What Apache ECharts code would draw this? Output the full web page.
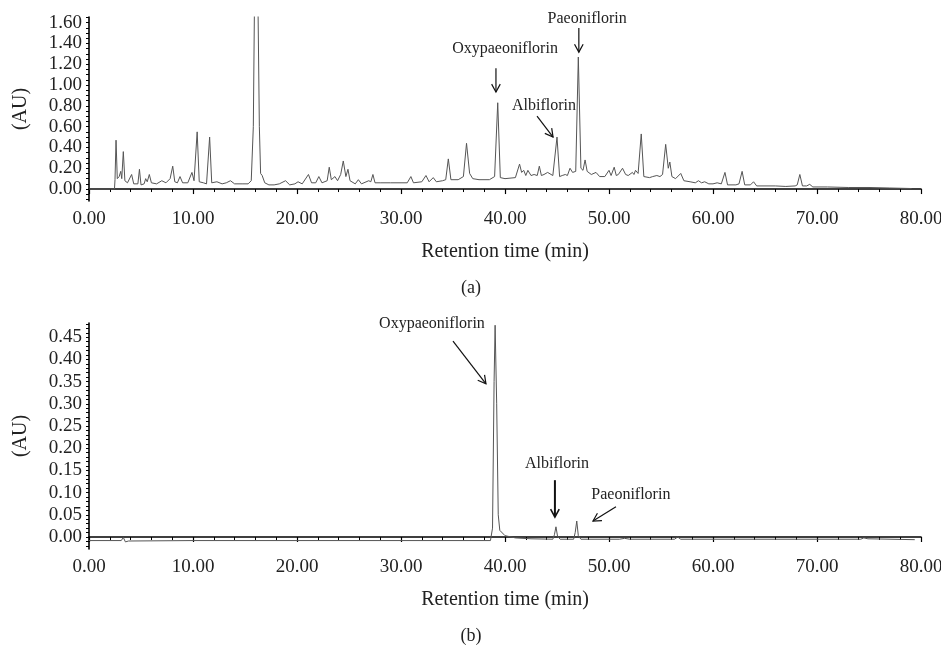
<!DOCTYPE html>
<html>
<head>
<meta charset="utf-8">
<script src="https://cdn.jsdelivr.net/npm/echarts@6/dist/echarts.min.js"></script>
<style>html,body{margin:0;padding:0;background:#fff}#c{width:941px;height:650px}</style>
</head>
<body>
<div id="c"></div>
<script>
// ---- Data (time in min, absorbance in AU) ----
var traceA = [
[0,0],[2.45,0],[2.5,0.09],[2.6,0.47],[2.72,0.1],[2.9,0.12],[3.05,0.17],[3.15,0.1],[3.3,0.36],[3.45,0.08],[3.7,0.06],
[4.1,0.14],[4.3,0.05],[4.7,0.05],[4.85,0.19],[5.0,0.04],[5.3,0.05],[5.45,0.1],[5.6,0.07],[5.8,0.14],[6.0,0.06],[6.5,0.05],
[7.0,0.08],[7.4,0.06],[7.8,0.1],[8.05,0.22],[8.25,0.07],[8.5,0.06],[8.75,0.12],[9.0,0.06],[9.5,0.06],[9.9,0.16],[10.1,0.08],
[10.4,0.55],[10.6,0.07],[11.0,0.06],[11.3,0.05],[11.6,0.5],[11.8,0.06],[12.3,0.07],[12.8,0.05],[13.2,0.06],[13.6,0.08],
[14.0,0.05],[14.8,0.05],[15.3,0.05],[15.6,0.08],[15.8,0.6],[15.95,2.2],[16.2,2.2],[16.38,0.6],[16.5,0.15],[16.65,0.13],
[16.9,0.06],[17.3,0.04],[17.8,0.04],[18.3,0.05],[18.9,0.08],[19.3,0.04],[19.8,0.05],[20.1,0.07],[20.5,0.05],[21.1,0.14],
[21.4,0.06],[21.8,0.06],[22.1,0.12],[22.4,0.06],[22.9,0.08],[23.1,0.21],[23.3,0.09],[23.65,0.12],[23.9,0.08],[24.2,0.14],
[24.45,0.27],[24.7,0.12],[24.9,0.19],[25.1,0.08],[25.6,0.05],[25.9,0.09],[26.2,0.05],[26.9,0.08],[27.1,0.07],[27.3,0.14],
[27.5,0.06],[28,0.06],[29,0.06],[30,0.06],[30.6,0.06],[30.95,0.12],[31.2,0.06],[32,0.07],[32.4,0.13],[32.7,0.07],[33.1,0.11],
[33.4,0.07],[34,0.08],[34.3,0.09],[34.55,0.29],[34.8,0.09],[35.5,0.09],[36.0,0.12],[36.3,0.44],[36.6,0.15],[36.9,0.1],
[37.5,0.09],[38.5,0.09],[39.0,0.12],[39.3,0.83],[39.55,0.11],[40.0,0.1],[41.0,0.11],[41.4,0.24],[41.6,0.16],[41.8,0.18],
[42.0,0.13],[42.2,0.18],[42.5,0.13],[42.8,0.14],[43.1,0.13],[43.3,0.22],[43.5,0.13],[43.75,0.14],[44.1,0.16],[44.6,0.13],
[45.0,0.5],[45.25,0.12],[45.5,0.13],[45.8,0.14],[46.0,0.13],[46.25,0.2],[46.5,0.16],[46.8,0.17],[47.05,1.27],[47.3,0.2],
[47.5,0.18],[47.7,0.28],[47.9,0.17],[48.3,0.14],[48.75,0.16],[49.1,0.12],[49.6,0.12],[50.0,0.18],[50.2,0.13],[50.5,0.21],
[50.7,0.13],[50.9,0.14],[51.3,0.2],[51.6,0.14],[51.85,0.13],[52.25,0.16],[52.4,0.14],[52.55,0.18],[52.8,0.15],[53.1,0.53],
[53.35,0.12],[53.9,0.11],[54.2,0.12],[54.35,0.11],[54.6,0.13],[54.9,0.12],[55.15,0.14],[55.45,0.43],[55.7,0.2],[55.85,0.26],
[56.05,0.12],[56.4,0.1],[56.9,0.15],[57.2,0.08],[57.8,0.07],[58.3,0.06],[58.6,0.08],[58.9,0.06],[59.2,0.07],[59.6,0.05],
[60.0,0.05],[60.4,0.06],[60.8,0.05],[61.15,0.16],[61.4,0.04],[62.2,0.04],[62.5,0.05],[62.8,0.17],[63.05,0.04],[63.6,0.04],
[63.9,0.07],[64.2,0.03],[65,0.03],[66,0.03],[67,0.025],[67.9,0.03],[68.1,0.04],[68.35,0.14],[68.6,0.03],[69.0,0.03],
[69.3,0.045],[69.6,0.02],[71,0.02],[73,0.015],[75,0.015],[77,0.01],[79.1,0.005]
];
var traceB = [
[0,-0.008],[3.1,-0.008],[3.3,-0.001],[3.5,-0.011],[3.8,-0.009],[10,-0.008],[20,-0.008],[30,-0.008],[38.6,-0.008],
[38.8,0.02],[38.95,0.35],[39.05,0.477],[39.2,0.3],[39.35,0.05],[39.5,0.015],[40.0,0.003],[41,-0.002],[42.5,-0.004],
[44.6,-0.005],[44.75,0.005],[44.9,0.023],[45.05,0.002],[45.3,-0.005],[46.6,-0.005],[46.75,0.01],[46.9,0.036],[47.05,0.003],
[47.3,-0.005],[51.0,-0.005],[51.5,-0.003],[52,-0.005],[56.3,-0.005],[56.6,0.0],[56.9,-0.005],[60,-0.005],[70,-0.005],
[74.2,-0.005],[74.5,-0.002],[74.9,-0.004],[79.4,-0.006]
];
var xTickLabels = [0,10,20,30,40,50,60,70,80];
var yTicksA = [0,0.2,0.4,0.6,0.8,1.0,1.2,1.4,1.6];
var yTicksB = [0,0.05,0.10,0.15,0.20,0.25,0.30,0.35,0.40,0.45];
var panelTitles = ['(a)','(b)'];
var xName = 'Retention time (min)';
var yName = '(AU)';
// annotations: [text, textT, textV, arrowFromT, arrowFromV, arrowToT, arrowToV, lineWidth]
var notesA = [
['Oxypaeoniflorin',40.0,1.346,39.13,1.163,39.13,0.933,1.2],
['Paeoniflorin',47.9,1.635,47.1,1.548,47.1,1.317,1.2],
['Albiflorin',43.75,0.80,43.08,0.702,44.62,0.50,1.2]
];
var notesB = [
['Oxypaeoniflorin',32.98,0.48,35.0,0.441,38.17,0.345,1.2],
['Albiflorin',45.0,0.164,44.8,0.128,44.8,0.045,2],
['Paeoniflorin',52.1,0.095,50.67,0.068,48.46,0.036,1.2]
];

var FONT = '"Liberation Serif","DejaVu Serif",serif';
var TXT = '#222';
function fmt(v){ return v.toFixed(2); }
function range(a,b,s){ var r=[]; for(var i=0;a+i*s<=b+1e-9;i++){ r.push(+(a+i*s).toFixed(4)); } return r; }

function xAxis(gi){
  return {
    type:'value', gridIndex:gi, min:0, max:80, interval:10,
    name:xName, nameLocation:'middle', nameGap:41,
    nameTextStyle:{fontFamily:FONT,fontSize:20,color:TXT},
    axisLine:{lineStyle:{color:'#000',width:1.6}},
    axisTick:{show:true,length:5,lineStyle:{color:'#000',width:1.2}},
    minorTick:{show:true,splitNumber:5,length:3,lineStyle:{color:'#000',width:1}},
    splitLine:{show:false}, minorSplitLine:{show:false},
    axisLabel:{formatter:fmt,fontFamily:FONT,fontSize:19,color:TXT,margin:9,showMinLabel:true,showMaxLabel:true,customValues:xTickLabels}
  };
}
function yAxis(gi,min,max,labels,minor){
  return {
    type:'value', gridIndex:gi, min:min, max:max,
    name:yName, nameLocation:'middle', nameGap:58,
    nameTextStyle:{fontFamily:FONT,fontSize:20,color:TXT},
    axisLine:{show:true,lineStyle:{color:'#000',width:1.6}},
    axisTick:{show:true,length:3,customValues:minor,lineStyle:{color:'#000',width:1}},
    splitLine:{show:false},
    axisLabel:{formatter:fmt,fontFamily:FONT,fontSize:19,color:TXT,margin:7,customValues:labels}
  };
}

var chart = echarts.init(document.getElementById('c'),null,{renderer:'canvas'});
var option = {
  animation:false,
  backgroundColor:'#fff',
  grid:[
    {left:89,right:20,top:17,height:184,outerBoundsMode:'none',containLabel:false},
    {left:89,right:20,top:323,height:226,outerBoundsMode:'none',containLabel:false}
  ],
  xAxis:[xAxis(0),xAxis(1)],
  yAxis:[
    yAxis(0,-0.115,1.655,yTicksA,range(-0.1,1.65,0.05)),
    yAxis(1,-0.027,0.482,yTicksB,range(-0.02,0.48,0.01))
  ],
  series:[
    {type:'line',xAxisIndex:0,yAxisIndex:0,data:traceA,showSymbol:false,symbol:'none',clip:true,
     lineStyle:{color:'#555',width:1}},
    {type:'line',xAxisIndex:1,yAxisIndex:1,data:traceB,showSymbol:false,symbol:'none',clip:true,
     lineStyle:{color:'#555',width:1}}
  ]
};
chart.setOption(option);

function buildGraphics(){
  var els = [];
  function addNotes(notes,gi){
    notes.forEach(function(n){
      var tp = chart.convertToPixel({xAxisIndex:gi,yAxisIndex:gi},[n[1],n[2]]);
      els.push({type:'text',x:tp[0],y:tp[1],z:100,style:{text:n[0],font:'16px '+FONT,fill:TXT,align:'center',verticalAlign:'middle'}});
      var a = chart.convertToPixel({xAxisIndex:gi,yAxisIndex:gi},[n[3],n[4]]);
      var b = chart.convertToPixel({xAxisIndex:gi,yAxisIndex:gi},[n[5],n[6]]);
      var lw = n[7];
      els.push({type:'line',z:100,shape:{x1:a[0],y1:a[1],x2:b[0],y2:b[1]},style:{stroke:'#111',lineWidth:lw}});
      var ang = Math.atan2(b[1]-a[1],b[0]-a[0]);
      var L = 9, s = 0.5;
      var p1 = [b[0]-L*Math.cos(ang-s), b[1]-L*Math.sin(ang-s)];
      var p2 = [b[0]-L*Math.cos(ang+s), b[1]-L*Math.sin(ang+s)];
      els.push({type:'polyline',z:100,shape:{points:[p1,b,p2]},style:{stroke:'#111',lineWidth:Math.max(1.2,lw*0.8),fill:null}});
    });
  }
  addNotes(notesA,0);
  addNotes(notesB,1);
  els.push({type:'text',x:471,y:288,style:{text:panelTitles[0],font:'18px '+FONT,fill:TXT,align:'center',verticalAlign:'middle'}});
  els.push({type:'text',x:471,y:636,style:{text:panelTitles[1],font:'18px '+FONT,fill:TXT,align:'center',verticalAlign:'middle'}});
  chart.setOption({graphic:{elements:els}});
}
buildGraphics();
</script>
</body>
</html>
